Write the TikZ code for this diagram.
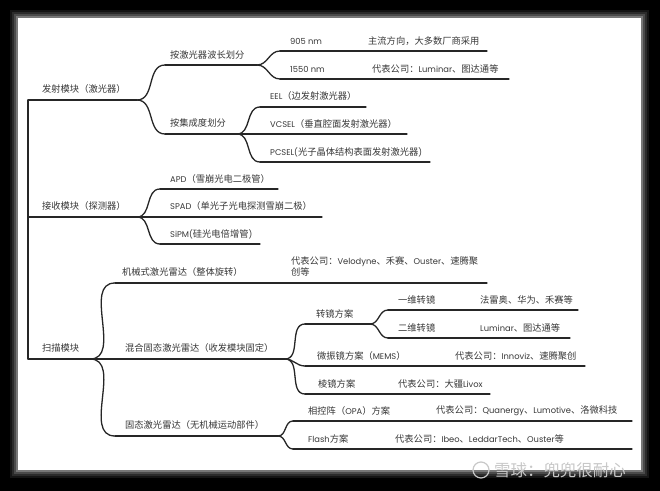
\documentclass[tikz,border=0pt]{standalone}
\usepackage{fontspec}
\newfontfamily\cjk{Noto Sans CJK SC}
\newfontfamily\latf[Scale=0.9]{Poppins}
\newcommand\lt[1]{{\latf #1}}
\definecolor{ln}{HTML}{262626}
\definecolor{txt}{HTML}{383838}
\definecolor{wm}{HTML}{C8C8C8}
\tikzset{
  lbl/.style={anchor=west, inner sep=0pt, text=txt, font=\cjk\fontsize{9.3}{11.5}\selectfont},
  br/.style={draw=ln, line width=1.3pt, line cap=round},
  cv/.style={br, out=0, in=180, looseness=1.05}
}
\begin{document}
\begin{tikzpicture}[x=1bp,y=-1bp]
\useasboundingbox (0,0) rectangle (660,491);
\fill[black] (0,0) rectangle (660,491);
\foreach \d/\o in {8/0.08,6/0.1,4/0.15,2/0.25}{
  \fill[white, opacity=\o] (18-\d,18-\d) rectangle (641+\d,470+\d);
}
\fill[white] (18,18) rectangle (641,470);

% ---------- coordinates ----------
\coordinate (r1) at (28,100);
\coordinate (r2) at (28,217);
\coordinate (r3) at (28,359);
\coordinate (b1) at (137,100);
\coordinate (b2) at (137,217);
\coordinate (b3) at (90,359);

\coordinate (ws) at (165,65);  \coordinate (we) at (257,65);
\coordinate (js) at (165,134); \coordinate (je) at (237,134);
\coordinate (n9s) at (280,51); \coordinate (n9e) at (487,51);
\coordinate (n15s) at (280,79); \coordinate (n15e) at (509,79);
\coordinate (eels) at (260,107); \coordinate (eele) at (366,107);
\coordinate (vcs) at (260,134); \coordinate (vce) at (407,134);
\coordinate (pcs) at (260,162); \coordinate (pce) at (430,162);

\coordinate (apds) at (160,189); \coordinate (apde) at (278,189);
\coordinate (spads) at (160,217); \coordinate (spade) at (322,217);
\coordinate (sipms) at (160,244); \coordinate (sipme) at (260,244);

\coordinate (mechs) at (115,283); \coordinate (meche) at (487,283);
\coordinate (hybe) at (285,359);
\coordinate (sols) at (115,436); \coordinate (sole) at (278,436);

\coordinate (zjs) at (305,324); \coordinate (zje) at (370,324);
\coordinate (memss) at (305,366); \coordinate (memse) at (585,366);
\coordinate (ljs) at (305,394); \coordinate (lje) at (490,394);
\coordinate (d1s) at (388,310); \coordinate (d1e) at (578,310);
\coordinate (d2s) at (388,338); \coordinate (d2e) at (570,338);
\coordinate (opas) at (293,421); \coordinate (opae) at (632,421);
\coordinate (fls) at (293,449); \coordinate (fle) at (632,449);

% ---------- connectors ----------
\draw[br] (r1) -- (r3);
\draw[br] (r1) -- (b1);
\draw[br] (r2) -- (b2);
\draw[br] (r3) -- (b3);

\draw[cv] (b1) to (ws); \draw[br] (ws) -- (we);
\draw[cv] (b1) to (js); \draw[br] (js) -- (je);
\draw[cv] (we) to (n9s); \draw[br] (n9s) -- (n9e);
\draw[cv] (we) to (n15s); \draw[br] (n15s) -- (n15e);
\draw[cv] (je) to (eels); \draw[br] (eels) -- (eele);
\draw[br] (je) -- (vcs) -- (vce);
\draw[cv] (je) to (pcs); \draw[br] (pcs) -- (pce);

\draw[cv] (b2) to (apds); \draw[br] (apds) -- (apde);
\draw[br] (b2) -- (spads) -- (spade);
\draw[cv] (b2) to (sipms); \draw[br] (sipms) -- (sipme);

\draw[cv] (b3) to (mechs); \draw[br] (mechs) -- (meche);
\draw[br] (b3) -- (hybe);
\draw[cv] (b3) to (sols); \draw[br] (sols) -- (sole);

\draw[cv] (hybe) to (zjs); \draw[br] (zjs) -- (zje);
\draw[cv] (hybe) to (memss); \draw[br] (memss) -- (memse);
\draw[cv] (hybe) to (ljs); \draw[br] (ljs) -- (lje);
\draw[cv] (zje) to (d1s); \draw[br] (d1s) -- (d1e);
\draw[cv] (zje) to (d2s); \draw[br] (d2s) -- (d2e);
\draw[cv] (sole) to (opas); \draw[br] (opas) -- (opae);
\draw[cv] (sole) to (fls); \draw[br] (fls) -- (fle);

% ---------- labels ----------
\node[lbl] (t1) at (42,89) {发射模块（激光器）};
\node[lbl] (t2) at (42,206) {接收模块（探测器）};
\node[lbl] (t3) at (42,348) {扫描模块};

\node[lbl] (tw) at (170,55) {按激光器波长划分};
\node[lbl] (tj) at (170,123) {按集成度划分};
\node[lbl] (t905) at (290,41) {\lt{905 nm}};
\node[lbl] (t905c) at (368,41) {主流方向，大多数厂商采用};
\node[lbl] (t1550) at (290,69) {\lt{1550 nm}};
\node[lbl] (t1550c) at (372,69) {代表公司：\lt{Luminar}、图达通等};
\node[lbl] (teel) at (270,96) {\lt{EEL}（边发射激光器）};
\node[lbl] (tvc) at (270,124) {\lt{VCSEL}（垂直腔面发射激光器）};
\node[lbl] (tpc) at (270,152) {\lt{PCSEL(}光子晶体结构表面发射激光器\lt{)}};

\node[lbl] (tapd) at (170,179) {\lt{APD}（雪崩光电二极管）};
\node[lbl] (tspad) at (170,206) {\lt{SPAD}（单光子光电探测雪崩二极）};
\node[lbl] (tsipm) at (170,234) {\lt{SiPM(}硅光电倍增管\lt{)}};

\node[lbl] (tmech) at (122,272) {机械式激光雷达（整体旋转）};
\node[lbl, align=left, anchor=north west] (tmechc) at (291,256) {代表公司：\lt{Velodyne}、禾赛、\lt{Ouster}、速腾聚\\创等};
\node[lbl] (thyb) at (125,348) {混合固态激光雷达（收发模块固定）};
\node[lbl] (tsol) at (125,425) {固态激光雷达（无机械运动部件）};

\node[lbl] (tzj) at (316,314) {转镜方案};
\node[lbl] (td1) at (398,300) {一维转镜};
\node[lbl] (td1c) at (480,300) {法雷奥、华为、禾赛等};
\node[lbl] (td2) at (398,328) {二维转镜};
\node[lbl] (td2c) at (480,328) {\lt{Luminar}、图达通等};
\node[lbl] (tmems) at (317,356) {微振镜方案（\lt{MEMS}）};
\node[lbl] (tmemsc) at (455,356) {代表公司：\lt{Innoviz}、速腾聚创};
\node[lbl] (tlj) at (318,384) {棱镜方案};
\node[lbl] (tljc) at (398,384) {代表公司：大疆\lt{Livox}};
\node[lbl] (topa) at (308,411) {相控阵（\lt{OPA}）方案};
\node[lbl] (topac) at (436,411) {代表公司：\lt{Quanergy}、\lt{Lumotive}、洛微科技};
\node[lbl] (tfl) at (308,439) {\lt{Flash}方案};
\node[lbl] (tflc) at (395,439) {代表公司：\lt{Ibeo}、\lt{LeddarTech}、\lt{Ouster}等};

% ---------- watermark ----------
\node[draw=wm, circle, line width=1.2pt, minimum size=16bp, inner sep=0pt] (logo) at (481,470) {};
\node[anchor=west, inner sep=0pt, text=wm, font=\cjk\fontsize{16.5}{18}\selectfont] (wmt) at (494,470) {雪球：兜兜很耐心};
\end{tikzpicture}
\end{document}
